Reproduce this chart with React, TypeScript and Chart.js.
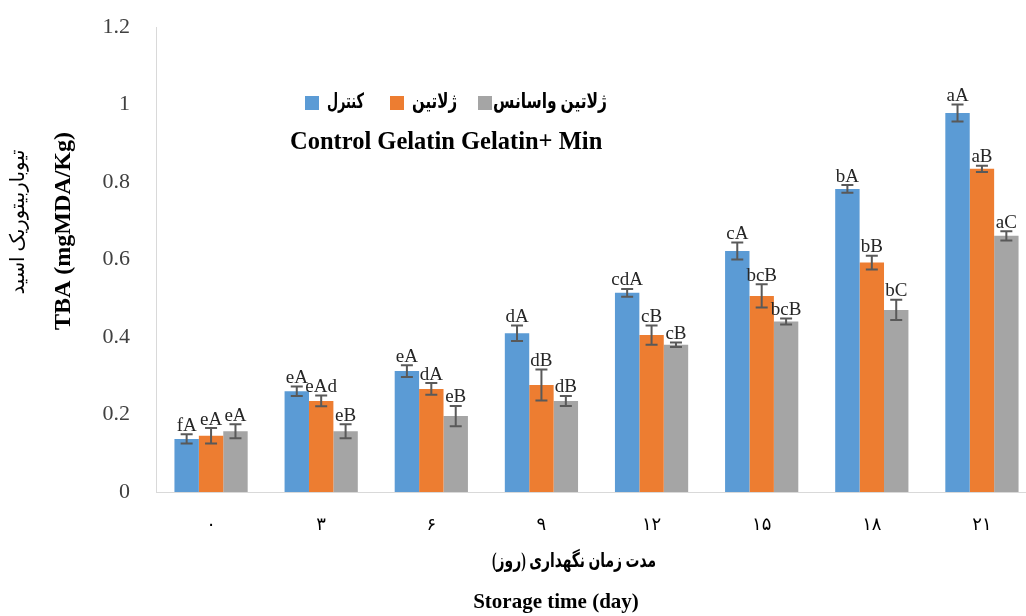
import React, { useEffect, useRef } from 'react';
import { Chart, registerables } from 'chart.js';
Chart.register(...registerables);

const days = ['۰', '۳', '۶', '۹', '۱۲', '۱۵', '۱۸', '۲۱'];
const seriesNames = ['کنترل', 'ژلاتین', 'ژلاتین واسانس'];
const seriesColors = ['#5B9BD5', '#ED7D31', '#A5A5A5'];

const control = [0.137, 0.26, 0.312, 0.41, 0.514, 0.622, 0.782, 0.978];
const gelatin = [0.145, 0.235, 0.266, 0.276, 0.405, 0.506, 0.592, 0.834];
const gelatinMin = [0.157, 0.157, 0.196, 0.235, 0.38, 0.44, 0.47, 0.661];

const controlErr = [0.012, 0.012, 0.015, 0.02, 0.01, 0.022, 0.01, 0.022];
const gelatinErr = [0.02, 0.014, 0.015, 0.04, 0.025, 0.03, 0.018, 0.008];
const gelatinMinErr = [0.018, 0.018, 0.026, 0.013, 0.006, 0.008, 0.026, 0.012];

const controlLetters = ['fA', 'eA', 'eA', 'dA', 'cdA', 'cA', 'bA', 'aA'];
const gelatinLetters = ['eA', 'eAd', 'dA', 'dB', 'cB', 'bcB', 'bB', 'aB'];
const gelatinMinLetters = ['eA', 'eB', 'eB', 'dB', 'cB', 'bcB', 'bC', 'aC'];

const yTitleFa = 'تیوباربیتوریک اسید';
const yTitleEn = 'TBA (mgMDA/Kg)';
const xTitleFa = 'مدت زمان نگهداری (روز)';
const xTitleEn = 'Storage time (day)';
const legendEn = 'Control Gelatin Gelatin+ Min';

const SERIF = '"Liberation Serif", "DejaVu Sans", serif';

function fitText(ctx: any, text: string, cx: number, cy: number, width: number) {
  const w = ctx.measureText(text).width;
  ctx.save();
  ctx.translate(cx, cy);
  ctx.scale(width / w, 1);
  ctx.textAlign = 'center';
  ctx.direction = 'rtl';
  ctx.fillText(text, 0, 0);
  ctx.restore();
}

export default function App() {
  const ref = useRef<HTMLCanvasElement>(null);

  useEffect(() => {
    if (!ref.current) return;
    const values = [control, gelatin, gelatinMin];
    const errs = [controlErr, gelatinErr, gelatinMinErr];
    const letters = [controlLetters, gelatinLetters, gelatinMinLetters];

    const annot = {
      id: 'annot',
      afterDatasetsDraw(chart: any) {
        const ctx = chart.ctx;
        const y = chart.scales.y;
        ctx.save();
        for (let d = 0; d < 3; d++) {
          const meta = chart.getDatasetMeta(d);
          meta.data.forEach((el: any, i: number) => {
            const v = values[d][i];
            const e = errs[d][i];
            const yt = y.getPixelForValue(v + e);
            const yb = y.getPixelForValue(v - e);
            const x = el.x;
            ctx.strokeStyle = '#595959';
            ctx.lineWidth = 2;
            ctx.beginPath();
            ctx.moveTo(x, yt);
            ctx.lineTo(x, yb);
            ctx.moveTo(x - 6, yt);
            ctx.lineTo(x + 6, yt);
            ctx.moveTo(x - 6, yb);
            ctx.lineTo(x + 6, yb);
            ctx.stroke();
            ctx.fillStyle = '#262626';
            ctx.font = '19px ' + SERIF;
            ctx.textAlign = 'center';
            ctx.textBaseline = 'bottom';
            ctx.fillText(letters[d][i], x, yt + 1);
          });
        }
        ctx.restore();
      },
      afterDraw(chart: any) {
        const ctx = chart.ctx;
        ctx.save();
        ctx.fillStyle = '#000';
        ctx.textBaseline = 'middle';

        const ly = 103;
        const boxX = [305, 390, 478];
        const textW = [37, 45, 114];
        ctx.font = 'bold 21px ' + SERIF;
        for (let d = 0; d < 3; d++) {
          ctx.fillStyle = seriesColors[d];
          ctx.fillRect(boxX[d], ly - 7, 14, 14);
          ctx.fillStyle = '#000';
          const tx = boxX[d] + (d === 2 ? 15 : 22);
          fitText(ctx, seriesNames[d], tx + textW[d] / 2, ly, textW[d]);
        }
        ctx.textAlign = 'left';
        ctx.direction = 'ltr';
        ctx.font = 'bold 24.5px ' + SERIF;
        ctx.fillText(legendEn, 290, 143);

        ctx.save();
        ctx.translate(19, 222);
        ctx.rotate(-Math.PI / 2);
        ctx.font = '20px ' + SERIF;
        fitText(ctx, yTitleFa, 0, 0, 145);
        ctx.restore();
        ctx.save();
        ctx.translate(64, 231);
        ctx.rotate(-Math.PI / 2);
        ctx.textAlign = 'center';
        ctx.direction = 'ltr';
        ctx.font = 'bold 24px ' + SERIF;
        ctx.fillText(yTitleEn, 0, 0);
        ctx.restore();

        ctx.font = 'bold 20px ' + SERIF;
        fitText(ctx, xTitleFa, 574, 562, 164);
        ctx.textAlign = 'center';
        ctx.direction = 'ltr';
        ctx.font = 'bold 21px ' + SERIF;
        ctx.fillText(xTitleEn, 556, 603);
        ctx.restore();
      },
    };

    const chart = new Chart(ref.current, {
      type: 'bar',
      data: {
        labels: days,
        datasets: seriesNames.map((name, d) => ({
          label: name,
          data: values[d],
          backgroundColor: seriesColors[d],
          borderWidth: 0,
          categoryPercentage: 0.665,
          barPercentage: 1.0,
        })),
      },
      options: {
        responsive: false,
        animation: false,
        layout: { padding: { top: 27, right: 4, left: 0, bottom: 0 } },
        plugins: {
          legend: { display: false },
          tooltip: { enabled: false },
        },
        scales: {
          x: {
            grid: { display: false },
            border: { display: true, color: '#d9d9d9', width: 1 },
            ticks: {
              font: { family: SERIF, size: 18 },
              color: '#000',
              padding: 14,
            },
            afterFit(scale: any) {
              scale.height = 124;
              scale.paddingLeft = 0;
              scale.paddingRight = 0;
            },
          },
          y: {
            min: 0,
            max: 1.2,
            grid: { display: false },
            border: { display: true, color: '#d9d9d9', width: 1 },
            ticks: {
              stepSize: 0.2,
              font: { family: SERIF, size: 22 },
              color: '#404040',
              padding: 18,
              callback: (v: any) => String(parseFloat(Number(v).toFixed(1))),
            },
            afterFit(scale: any) {
              scale.width = 156;
              scale.paddingTop = 0;
              scale.paddingBottom = 0;
            },
          },
        },
      },
      plugins: [annot],
    });
    return () => chart.destroy();
  }, []);

  return (
    <div style={{ position: 'fixed', left: 0, top: 0, width: 1026, height: 616, background: '#fff', overflow: 'hidden' }}>
      <canvas ref={ref} width={1041} height={616} style={{ display: 'block' }} />
    </div>
  );
}
